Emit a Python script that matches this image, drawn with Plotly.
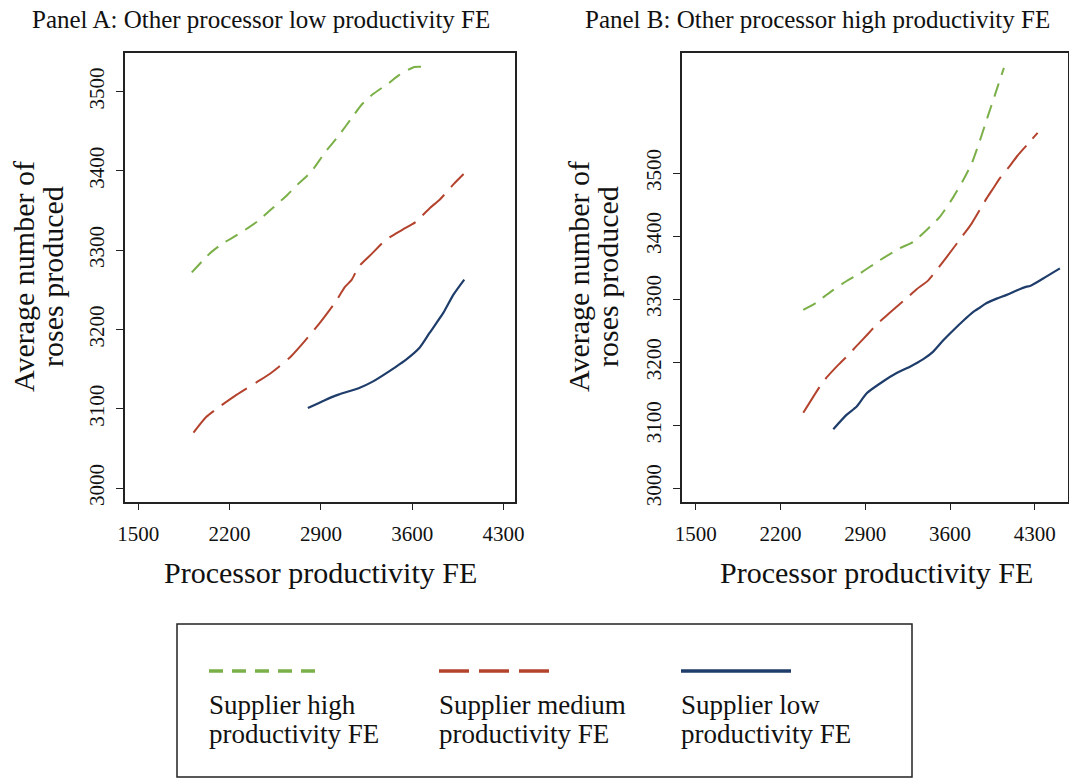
import plotly.graph_objects as go

# ---------------- Data ----------------
# Panel A: Other processor low productivity FE
a_high_x = [1910, 2048, 2151, 2255, 2411, 2515, 2644, 2722, 2826, 2930, 3034, 3137, 3215, 3293, 3423, 3501, 3618, 3695]
a_high_y = [3272, 3296, 3309, 3319, 3336, 3351, 3370, 3383, 3399, 3423, 3444, 3467, 3484, 3496, 3511, 3521, 3531, 3531]

a_med_x = [1923, 2022, 2125, 2255, 2411, 2515, 2670, 2774, 2904, 3008, 3086, 3137, 3189, 3293, 3397, 3527, 3630, 3734, 3812, 3916, 3994]
a_med_y = [3070, 3090, 3103, 3118, 3134, 3145, 3166, 3185, 3211, 3234, 3254, 3263, 3279, 3296, 3313, 3326, 3336, 3353, 3364, 3383, 3396]

a_low_x = [2800, 2930, 3034, 3189, 3293, 3475, 3553, 3656, 3734, 3838, 3916, 3999]
a_low_y = [3101, 3111, 3118, 3126, 3134, 3153, 3162, 3177, 3196, 3221, 3244, 3263]

# Panel B: Other processor high productivity FE
b_high_x = [2388, 2499, 2567, 2636, 2747, 2856, 3021, 3186, 3296, 3434, 3517, 3627, 3709, 3778, 3820, 3847, 3888, 3915, 3957, 3998, 4045]
b_high_y = [3283, 3295, 3305, 3315, 3329, 3341, 3362, 3381, 3391, 3415, 3431, 3462, 3489, 3515, 3537, 3552, 3576, 3592, 3616, 3640, 3667]

b_med_x = [2388, 2526, 2581, 2677, 2766, 2823, 2912, 2994, 3063, 3159, 3255, 3324, 3420, 3572, 3709, 3778, 3902, 3957, 4012, 4100, 4150, 4232, 4323]
b_med_y = [3120, 3162, 3176, 3196, 3213, 3225, 3243, 3260, 3272, 3288, 3304, 3316, 3330, 3367, 3402, 3420, 3460, 3476, 3492, 3513, 3526, 3544, 3564]

b_low_x = [2636, 2747, 2829, 2912, 3049, 3159, 3269, 3379, 3461, 3544, 3627, 3709, 3792, 3847, 3902, 3985, 4067, 4150, 4232, 4260, 4369, 4507]
b_low_y = [3094, 3117, 3130, 3151, 3170, 3183, 3193, 3205, 3217, 3235, 3251, 3266, 3280, 3287, 3294, 3301, 3307, 3314, 3320, 3321, 3333, 3349]

x_ticks = [1500, 2200, 2900, 3600, 4300]
y_ticks = [3000, 3100, 3200, 3300, 3400, 3500]

series_lines = [("Supplier high", "productivity FE"),
                ("Supplier medium", "productivity FE"),
                ("Supplier low", "productivity FE")]
panel_titles = ["Panel A: Other processor low productivity FE", "Panel B: Other processor high productivity FE"]
x_title = "Processor productivity FE"
y_title_lines = ["Average number of", "roses produced"]

# ---------------- Styling ----------------
FONT = "Liberation Serif"
GREEN = "#7BB048"
RED = "#B4432E"
BLUE = "#1F3D6B"
styles = [
    dict(color=GREEN, width=2, dash="14px,9px"),
    dict(color=RED, width=2, dash="30px,10px"),
    dict(color=BLUE, width=2.2, dash="solid"),
]

W, H = 1069, 779
def px_x(p):
    return p / W
def px_y(p):
    return 1 - p / H

fig = go.Figure()

panels = [
    ("x", "y", [(a_high_x, a_high_y), (a_med_x, a_med_y), (a_low_x, a_low_y)]),
    ("x2", "y2", [(b_high_x, b_high_y), (b_med_x, b_med_y), (b_low_x, b_low_y)]),
]
for xa, ya, data in panels:
    for (xs, ys), st, nm in zip(data, styles, series_lines):
        fig.add_trace(go.Scatter(
            x=xs, y=ys, mode="lines", line=dict(shape="spline", smoothing=0.6, **st),
            name=" ".join(nm), xaxis=xa, yaxis=ya, showlegend=False,
            hoverinfo="skip",
        ))

axis_common = dict(
    showgrid=False, zeroline=False, showline=True, linecolor="#222", linewidth=1.5,
    mirror=True, ticks="outside", ticklen=7, tickwidth=1.3, tickcolor="#222",
    automargin=False,
    tickfont=dict(family=FONT, size=21, color="#111"),
)

plot_top = px_y(52.7)
plot_bot = px_y(501.7)

fig.update_layout(
    width=W, height=H, autosize=False,
    margin=dict(l=0, r=0, t=0, b=0, pad=0),
    paper_bgcolor="white", plot_bgcolor="white",
    font=dict(family=FONT, color="#111"),
    xaxis=dict(domain=[px_x(125), px_x(515)], range=[1398, 4388], tickvals=x_ticks,
               anchor="y", ticklabelstandoff=5, **axis_common),
    yaxis=dict(domain=[plot_bot, plot_top], range=[2983, 3549], tickvals=y_ticks,
               anchor="x", tickangle=-90, ticklabelstandoff=4, **axis_common),
    xaxis2=dict(domain=[px_x(681.7), px_x(1068)], range=[1384, 4574], tickvals=x_ticks,
                anchor="y2", ticklabelstandoff=5, **axis_common),
    yaxis2=dict(domain=[plot_bot, plot_top], range=[2979, 3691], tickvals=y_ticks,
                anchor="x2", tickangle=-90, ticklabelstandoff=4, **axis_common),
)

ann = []
# panel titles
for cx, t in zip([260.5, 817], panel_titles):
    ann.append(dict(text=t, x=px_x(cx), y=px_y(20), xref="paper", yref="paper",
                    xanchor="center", yanchor="middle", showarrow=False,
                    font=dict(family=FONT, size=25, color="#111")))
# x axis titles
for cx in [320, 876]:
    ann.append(dict(text=x_title, x=px_x(cx), y=px_y(572), xref="paper", yref="paper",
                    xanchor="center", yanchor="middle", showarrow=False,
                    font=dict(family=FONT, size=30, color="#111")))
# y axis titles (two lines, rotated)
for xs in [(24, 53), (579, 608)]:
    for lx, txt in zip(xs, y_title_lines):
        ann.append(dict(text=txt, x=px_x(lx), y=px_y(277), xref="paper", yref="paper",
                        xanchor="center", yanchor="middle", showarrow=False, textangle=-90,
                        font=dict(family=FONT, size=30, color="#111")))

# legend (drawn manually: line sample above the two-line label)
shapes = [dict(type="rect", xref="paper", yref="paper",
               x0=px_x(177), x1=px_x(912), y0=px_y(777), y1=px_y(624),
               line=dict(color="#222", width=1.5), fillcolor="white", layer="below")]
leg_x = [209, 439, 681]
for lx, st, nm in zip(leg_x, styles, series_lines):
    shapes.append(dict(type="line", xref="paper", yref="paper",
                       x0=px_x(lx), x1=px_x(lx + 110), y0=px_y(671), y1=px_y(671),
                       line=dict(color=st["color"], width=3.5, dash=st["dash"])))
    for ly, txt in zip([705, 734], nm):
        ann.append(dict(text=txt, x=px_x(lx - 2), y=px_y(ly), xref="paper", yref="paper",
                        xanchor="left", yanchor="middle", align="left", showarrow=False,
                        font=dict(family=FONT, size=27, color="#111")))

fig.update_layout(annotations=ann, shapes=shapes)
fig.write_html(
    "out.html",
    config={"displayModeBar": False},
    post_script="document.body.style.margin='0';document.body.style.overflow='hidden';",
)
